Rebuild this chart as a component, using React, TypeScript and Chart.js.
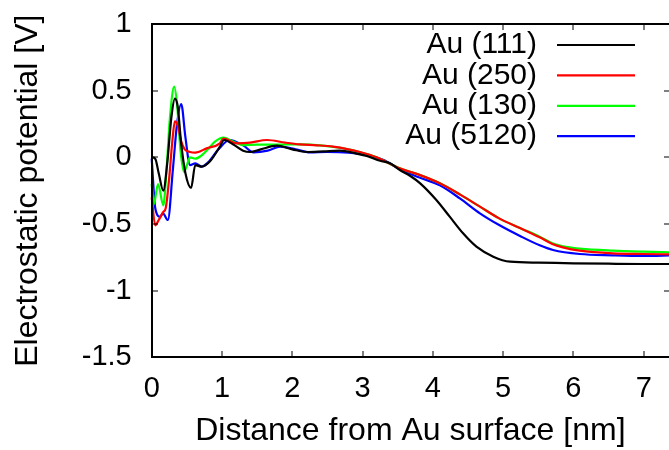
import React, { useEffect, useRef } from "react";
import { Chart, registerables } from "chart.js";

Chart.register(...registerables);

const seriesLabels = ["Au (111)", "Au (250)", "Au (130)", "Au (5120)"];
const seriesColors = ["#000000", "#ff0000", "#00ff00", "#0000ff"];

const au111X = [0, 0.05, 0.1, 0.165, 0.22, 0.28, 0.33, 0.37, 0.42, 0.48, 0.56, 0.62, 0.71, 0.83, 0.97, 1.03, 1.15, 1.3, 1.4, 1.55, 1.78, 2.0, 2.2, 2.45, 2.68, 2.9, 3.06, 3.25, 3.39, 3.53, 3.68, 3.82, 4.05, 4.24, 4.43, 4.62, 4.86, 5.1, 5.5, 6.0, 6.5, 7.0, 7.4];
const au111Y = [0.0, -0.01, -0.12, -0.25, -0.05, 0.3, 0.44, 0.38, 0.1, -0.12, -0.23, -0.058, -0.07, -0.03, 0.08, 0.13, 0.1, 0.05, 0.04, 0.06, 0.087, 0.06, 0.04, 0.045, 0.05, 0.03, 0.01, -0.026, -0.045, -0.095, -0.14, -0.195, -0.32, -0.445, -0.57, -0.67, -0.745, -0.783, -0.79, -0.795, -0.798, -0.8, -0.8];

const au250X = [0, 0.05, 0.1, 0.165, 0.2, 0.25, 0.29, 0.33, 0.37, 0.42, 0.47, 0.545, 0.62, 0.78, 0.97, 1.02, 1.21, 1.4, 1.64, 1.9, 2.11, 2.35, 2.58, 2.8, 2.96, 3.2, 3.53, 3.8, 4.1, 4.39, 4.67, 4.95, 5.24, 5.52, 5.7, 5.85, 6.09, 6.56, 7.0, 7.4];
const au250Y = [-0.3, -0.51, -0.47, -0.41, -0.38, -0.15, 0.1, 0.27, 0.24, 0.12, 0.06, 0.04, 0.035, 0.067, 0.105, 0.14, 0.105, 0.11, 0.13, 0.11, 0.097, 0.09, 0.08, 0.06, 0.04, 0.0, -0.083, -0.13, -0.195, -0.28, -0.37, -0.46, -0.53, -0.6, -0.65, -0.675, -0.7, -0.72, -0.725, -0.728];

const au130X = [0, 0.03, 0.09, 0.165, 0.21, 0.26, 0.32, 0.36, 0.41, 0.46, 0.5, 0.545, 0.62, 0.7, 0.8, 0.9, 1.02, 1.15, 1.3, 1.5, 1.8, 2.1, 2.4, 2.7, 2.96, 3.2, 3.53, 3.8, 4.1, 4.39, 4.67, 4.95, 5.24, 5.52, 5.7, 5.85, 6.09, 6.56, 7.0, 7.4];
const au130Y = [-0.2, -0.35, -0.2, -0.36, -0.1, 0.3, 0.53, 0.4, 0.05, -0.11, -0.06, 0.0, -0.01, 0.01, 0.06, 0.117, 0.147, 0.12, 0.092, 0.095, 0.095, 0.097, 0.09, 0.07, 0.04, 0.0, -0.083, -0.13, -0.195, -0.28, -0.37, -0.46, -0.53, -0.595, -0.645, -0.668, -0.685, -0.7, -0.708, -0.713];

const au5120X = [0, 0.05, 0.12, 0.16, 0.23, 0.3, 0.36, 0.42, 0.48, 0.545, 0.62, 0.71, 0.8, 0.95, 1.11, 1.3, 1.45, 1.65, 1.83, 2.05, 2.25, 2.49, 2.8, 3.06, 3.3, 3.53, 3.8, 4.1, 4.39, 4.67, 4.95, 5.24, 5.52, 5.71, 6.09, 6.56, 7.0, 7.4];
const au5120Y = [-0.01, -0.38, -0.445, -0.42, -0.47, -0.1, 0.25, 0.4, 0.15, -0.058, -0.045, -0.07, -0.04, 0.06, 0.13, 0.09, 0.037, 0.05, 0.08, 0.06, 0.037, 0.04, 0.035, 0.017, -0.02, -0.09, -0.15, -0.21, -0.31, -0.42, -0.51, -0.59, -0.66, -0.695, -0.725, -0.735, -0.74, -0.735];

const xTicks = [0, 1, 2, 3, 4, 5, 6, 7];
const yTicks = [-1.5, -1, -0.5, 0, 0.5, 1];

const xTitle = "Distance from Au surface [nm]";
const yTitle = "Electrostatic potential [V]";

const FONT = "'Liberation Sans', Arial, Helvetica, sans-serif";

function pts(xs: number[], ys: number[]) {
  return xs.map((x, i) => ({ x, y: ys[i] }));
}

const framePlugin = {
  id: "gnuplotFrame",
  afterDraw(chart: any) {
    const { ctx, scales } = chart;
    const xs = scales.x;
    const ys = scales.y;
    const left = Math.round(xs.getPixelForValue(xs.min));
    const right = Math.round(xs.getPixelForValue(xs.max));
    const top = Math.round(ys.getPixelForValue(ys.max));
    const bottom = Math.round(ys.getPixelForValue(ys.min));
    const tl = 6;
    ctx.save();
    ctx.fillStyle = "#000";
    // frame: left, bottom, top (right edge lies at the picture's edge)
    ctx.fillRect(left - 1, top - 1, 2, bottom - top + 2);
    ctx.fillRect(left - 1, bottom - 1, right - left + 3, 2);
    ctx.fillRect(left - 1, top - 1, right - left + 3, 2);
    // inward ticks
    xTicks.forEach((v) => {
      const px = Math.round(xs.getPixelForValue(v));
      ctx.fillRect(px - 0.5, bottom - tl, 1, tl);
      ctx.fillRect(px - 0.5, top, 1, tl);
    });
    yTicks.forEach((v) => {
      const py = Math.round(ys.getPixelForValue(v));
      ctx.fillRect(left, py - 0.5, tl, 1);
      ctx.fillRect(right + 1 - tl, py - 0.5, tl, 1);
    });

    // gnuplot-style key (text right-aligned, then sample line)
    ctx.font = "30px " + FONT;
    ctx.textAlign = "right";
    ctx.textBaseline = "middle";
    chart.data.datasets.forEach((ds: any, i: number) => {
      const y = 45 + i * 30.4;
      ctx.fillStyle = "#000";
      ctx.fillText(ds.label, 537, y);
      ctx.strokeStyle = ds.borderColor;
      ctx.lineWidth = 2.2;
      ctx.beginPath();
      ctx.moveTo(557, y);
      ctx.lineTo(635, y);
      ctx.stroke();
    });
    ctx.restore();
  },
};

export default function App() {
  const ref = useRef<HTMLCanvasElement | null>(null);
  useEffect(() => {
    document.body.style.margin = "0";
    const xsArr = [au111X, au250X, au130X, au5120X];
    const ysArr = [au111Y, au250Y, au130Y, au5120Y];
    const chart = new Chart(ref.current as HTMLCanvasElement, {
      type: "line",
      data: {
        datasets: seriesLabels.map((label, i) => ({
          label,
          data: pts(xsArr[i], ysArr[i]),
          borderColor: seriesColors[i],
          backgroundColor: seriesColors[i],
          borderWidth: 2.2,
          pointRadius: 0,
          fill: false,
          clip: false,
          cubicInterpolationMode: "monotone" as const,
        })),
      },
      options: {
        animation: false,
        responsive: true,
        maintainAspectRatio: false,
        layout: { autoPadding: false, padding: { top: 24, left: 0, right: 0, bottom: 0 } },
        plugins: { legend: { display: false }, tooltip: { enabled: false } },
        scales: {
          x: {
            type: "linear",
            min: 0,
            max: 7.36,
            grid: { display: false, drawTicks: false },
            border: { display: false },
            ticks: {
              stepSize: 1,
              includeBounds: false,
              padding: 14,
              color: "#000",
              font: { family: FONT, size: 29 },
              maxRotation: 0,
              callback: (v: any) => String(v),
            },
            title: {
              display: true,
              text: xTitle,
              color: "#000",
              font: { family: FONT, size: 32 },
              padding: { top: 0, bottom: 0 },
            },
            afterFit: (s: any) => {
              s.height = 92.7;
              s.paddingLeft = 0;
              s.paddingRight = 0;
            },
          },
          y: {
            type: "linear",
            min: -1.5,
            max: 1,
            grid: { display: false, drawTicks: false },
            border: { display: false },
            ticks: {
              stepSize: 0.5,
              padding: 20,
              color: "#000",
              font: { family: FONT, size: 29 },
              callback: (v: any) => String(v),
            },
            title: {
              display: true,
              text: yTitle,
              color: "#000",
              font: { family: FONT, size: 32 },
              padding: { top: 9, bottom: 0 },
            },
            afterFit: (s: any) => {
              s.width = 151.7;
              s.paddingTop = 0;
              s.paddingBottom = 0;
            },
          },
        },
      },
      plugins: [framePlugin],
    });
    return () => chart.destroy();
  }, []);
  return (
    <div style={{ position: "absolute", left: 0, top: 0, width: 669, height: 450 }}>
      <canvas ref={ref} style={{ display: "block" }} />
    </div>
  );
}
